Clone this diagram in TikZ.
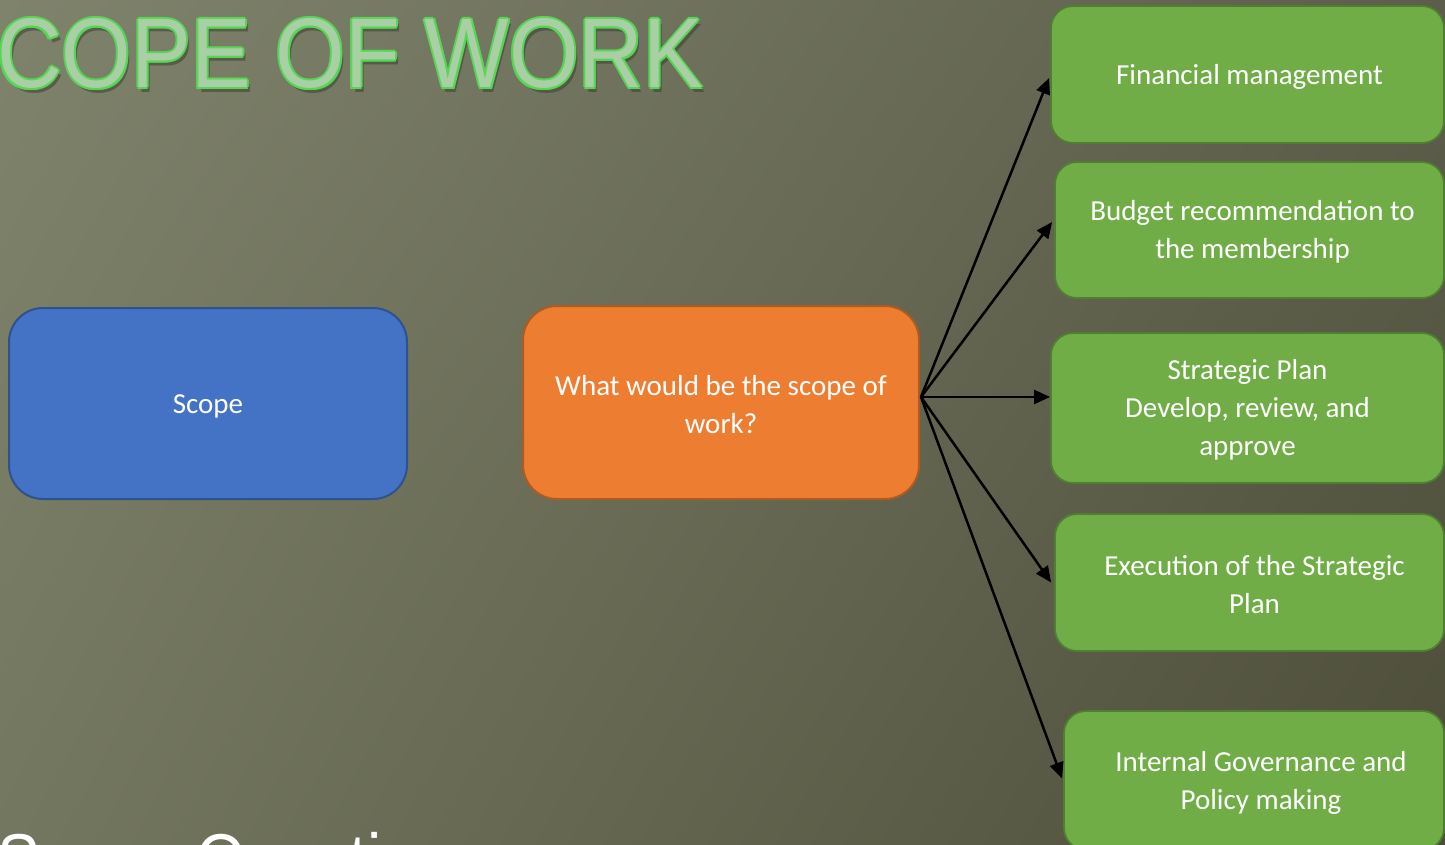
\documentclass[tikz,border=0pt]{standalone}
\usepackage{fontspec}
\setmainfont{Carlito}
\newfontfamily\titlefont{Liberation Sans}
\usetikzlibrary{arrows.meta,calc,shadings}
\definecolor{bgul}{HTML}{80836C}
\definecolor{bgur}{HTML}{5C5E4B}
\definecolor{bgll}{HTML}{74775F}
\definecolor{bglr}{HTML}{4D4D39}
\definecolor{bluefill}{HTML}{4472C4}
\definecolor{blueline}{HTML}{2F528F}
\definecolor{orangefill}{HTML}{ED7D31}
\definecolor{orangeline}{HTML}{AE5A21}
\definecolor{greenfill}{HTML}{70AD47}
\definecolor{greenline}{HTML}{507E32}
\definecolor{titlefill}{HTML}{A9D0A5}
\definecolor{titleline}{HTML}{55D655}
\definecolor{titleshadow}{HTML}{3E4032}
\newcommand{\tup}{\rule{0pt}{24pt}}
\tikzset{
  bigbox/.style={rounded corners=34pt, line width=2pt, text=white, align=center,
    font=\fontsize{29}{38}\selectfont, inner sep=0pt},
  greenbox/.style={rounded corners=22pt, fill=greenfill, draw=greenline, line width=1.8pt,
    text=white, align=center, font=\fontsize{29}{38}\selectfont, inner sep=0pt},
  conn/.style={draw=black, line width=2.5pt, -{Triangle[length=16pt,width=14pt]}},
  titletext/.style={anchor=base west, inner sep=0pt,
    font=\titlefont\fontsize{99}{99}\selectfont, xscale=0.904},
}
\begin{document}
\begin{tikzpicture}[x=1pt,y=-1pt]
\useasboundingbox (0,0) rectangle (1445,845);
\clip (0,0) rectangle (1445,845);
\shade[upper left=bgul, upper right=bgur, lower left=bgll, lower right=bglr] (0,0) rectangle (1445,845);

% title
\node[titletext, text=titleshadow, opacity=0.55] (tshadow) at (0,93) {COPE OF WORK};
\foreach \dx/\dy [count=\i] in {-2/0, 2/0, 0/-2, 0/2, -1.4/-1.4, 1.4/-1.4, -1.4/1.4, 1.4/1.4}
  \node[titletext, text=titleline] (tline\i) at (-3+\dx,88+\dy) {COPE OF WORK};
\node[titletext, text=titlefill] (title) at (-3,88) {COPE OF WORK};

% bottom text (cut by the frame)
\node[anchor=base west, inner sep=0pt, text=white, xscale=0.89,
  font=\titlefont\fontsize{72}{72}\selectfont] (subtitle) at (-3,884) {Scope Questions};

% main boxes
\node[bigbox, fill=bluefill, draw=blueline, minimum width=398pt, minimum height=191pt] (scope) at (208,403.5) {\tup Scope};
\node[bigbox, fill=orangefill, draw=orangeline, minimum width=396pt, minimum height=193pt] (q) at (721,402.5) {\tup What would be the scope of\\work?};

% green boxes
\node[greenbox, minimum width=393pt, minimum height=137pt] (f1) at (1247.5,74.5) {\tup\hspace*{4pt}Financial management};
\node[greenbox, minimum width=389pt, minimum height=136pt] (f2) at (1249.5,230) {\tup\hspace*{6pt}Budget recommendation to\\\hspace*{6pt}the membership};
\node[greenbox, minimum width=393pt, minimum height=150pt] (f3) at (1247.5,408) {\tup Strategic Plan\\Develop, review, and\\approve};
\node[greenbox, minimum width=389pt, minimum height=137pt] (f4) at (1249.5,582.5) {\tup\hspace*{10pt}Execution of the Strategic\\\hspace*{10pt}Plan};
\node[greenbox, minimum width=380pt, minimum height=139pt] (f5) at (1254,780.5) {\tup\hspace*{14pt}Internal Governance and\\\hspace*{14pt}Policy making};

% connectors
\coordinate (src) at ($(q.east)+(1,-5.5)$);
\coordinate (t1) at ($(f1.west)+(-1,3.5)$);
\coordinate (t2) at ($(f2.west)+(-2,-8)$);
\coordinate (t3) at ($(f3.west)+(0,-11)$);
\coordinate (t4) at ($(f4.west)+(-3,0)$);
\coordinate (t5) at ($(f5.west)+(-1,-2)$);
\foreach \t in {t1,t2,t3,t4,t5}
  \draw[conn] (src) -- (\t);
\end{tikzpicture}
\end{document}
